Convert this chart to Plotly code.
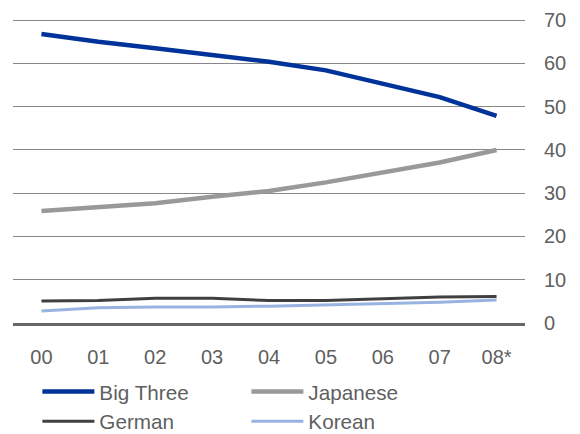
import plotly.graph_objects as go

years = ["00", "01", "02", "03", "04", "05", "06", "07", "08*"]
big_three = [66.8, 65.0, 63.5, 61.9, 60.4, 58.4, 55.3, 52.2, 47.9]
japanese = [25.9, 26.7, 27.7, 29.2, 30.5, 32.5, 34.8, 37.1, 40.0]
german = [5.1, 5.2, 5.7, 5.7, 5.2, 5.2, 5.6, 6.0, 6.1]
korean = [2.8, 3.5, 3.7, 3.7, 3.9, 4.2, 4.5, 4.8, 5.3]
y_ticks = [0, 10, 20, 30, 40, 50, 60, 70]

series = [
    ("Big Three", big_three, "#003399", 4.5),
    ("Japanese", japanese, "#999999", 4.5),
    ("German", german, "#404040", 3),
    ("Korean", korean, "#99b3e0", 3),
]

FONT = "Liberation Sans, Arial, sans-serif"
TXT = "#5f5f5f"

fig = go.Figure()
for name, vals, color, w in series:
    fig.add_trace(go.Scatter(x=years, y=vals, name=name, mode="lines",
                             line=dict(color=color, width=w)))

# page has an 8px body margin, so the figure is sized/positioned to compensate
fig.update_layout(
    width=572, height=426,
    margin=dict(l=5, r=55, t=10, b=111, autoexpand=False),
    paper_bgcolor="white", plot_bgcolor="white",
    font=dict(family=FONT, size=20, color=TXT),
    showlegend=True,
    legend=dict(orientation="h", x=0.0476, y=-0.159, xanchor="left", yanchor="top",
                font=dict(size=20.7, color=TXT), entrywidth=142,
                itemwidth=52, tracegroupgap=0, bgcolor="rgba(0,0,0,0)"),
    xaxis=dict(type="category", range=[-0.5, 8.5], showgrid=False,
               showline=True, linecolor="#666666", linewidth=3,
               ticks="outside", ticklen=14, tickcolor="rgba(0,0,0,0)",
               tickfont=dict(size=20, color=TXT), zeroline=False),
    yaxis=dict(side="right", range=[0, 70.5], tickvals=y_ticks,
               showgrid=True, gridcolor="#888888", gridwidth=1.4,
               zeroline=False, showline=False,
               ticks="outside", ticklen=14, tickcolor="rgba(0,0,0,0)",
               tickfont=dict(size=20, color=TXT)),
)

fig.write_html("out.html")
